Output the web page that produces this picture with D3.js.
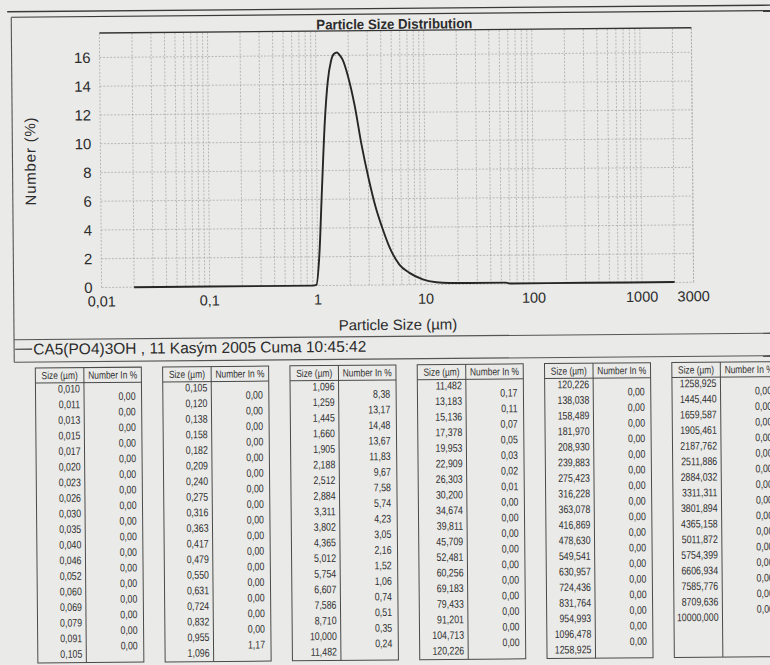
<!DOCTYPE html>
<html><head><meta charset="utf-8">
<script src="https://cdn.jsdelivr.net/npm/d3@7"></script>
<style>
html,body{margin:0;padding:0;background:#eaeae8;}
svg{display:block;}
</style></head><body>
<svg id="chart" width="770" height="665"></svg>
<script>
// ---- text ----
const chartTitle = "Particle Size Distribution";
const xAxisTitle = "Particle Size (µm)";
const yAxisTitle = "Number (%)";
const sampleCaption = "CA5(PO4)3OH , 11 Kasým 2005 Cuma 10:45:42";

// ---- axes ----
const xTickValues = [0.01, 0.1, 1, 10, 100, 1000, 3000];
const xTickLabels = ["0,01", "0,1", "1", "10", "100", "1000", "3000"];
const yTickValues = [0, 2, 4, 6, 8, 10, 12, 14, 16];

// ---- distribution curve (size in µm, number in %) ----
const curveSize = [0.02, 0.1, 0.5, 0.9, 0.97, 1.04, 1.114, 1.198, 1.285, 1.38, 1.47, 1.57, 1.67, 1.77, 1.97, 2.27, 2.61, 3.01, 3.47, 4.0, 4.61, 5.71, 7.07, 9.38, 12.5, 16.6, 25, 55, 60, 300, 2000];
const curveNumber = [0, 0, 0, 0, 0.05, 2.1, 6.75, 11.4, 14.2, 15.6, 16.1, 16.2, 16.0, 15.7, 14.6, 12.5, 9.76, 7.44, 5.47, 3.97, 2.69, 1.41, 0.83, 0.37, 0.16, 0.1, 0.09, 0.09, 0.03, 0.03, 0.03];

// ---- result tables ----
const tableHeaders = ["Size (µm)", "Number In %"];
const sizeColumns = [
  ["0,010","0,011","0,013","0,015","0,017","0,020","0,023","0,026","0,030","0,035","0,040","0,046","0,052","0,060","0,069","0,079","0,091","0,105"],
  ["0,105","0,120","0,138","0,158","0,182","0,209","0,240","0,275","0,316","0,363","0,417","0,479","0,550","0,631","0,724","0,832","0,955","1,096"],
  ["1,096","1,259","1,445","1,660","1,905","2,188","2,512","2,884","3,311","3,802","4,365","5,012","5,754","6,607","7,586","8,710","10,000","11,482"],
  ["11,482","13,183","15,136","17,378","19,953","22,909","26,303","30,200","34,674","39,811","45,709","52,481","60,256","69,183","79,433","91,201","104,713","120,226"],
  ["120,226","138,038","158,489","181,970","208,930","239,883","275,423","316,228","363,078","416,869","478,630","549,541","630,957","724,436","831,764","954,993","1096,478","1258,925"],
  ["1258,925","1445,440","1659,587","1905,461","2187,762","2511,886","2884,032","3311,311","3801,894","4365,158","5011,872","5754,399","6606,934","7585,776","8709,636","10000,000"]
];
const numberColumns = [
  ["0,00","0,00","0,00","0,00","0,00","0,00","0,00","0,00","0,00","0,00","0,00","0,00","0,00","0,00","0,00","0,00","0,00"],
  ["0,00","0,00","0,00","0,00","0,00","0,00","0,00","0,00","0,00","0,00","0,00","0,00","0,00","0,00","0,00","0,00","1,17"],
  ["8,38","13,17","14,48","13,67","11,83","9,67","7,58","5,74","4,23","3,05","2,16","1,52","1,06","0,74","0,51","0,35","0,24"],
  ["0,17","0,11","0,07","0,05","0,03","0,02","0,01","0,00","0,00","0,00","0,00","0,00","0,00","0,00","0,00","0,00","0,00"],
  ["0,00","0,00","0,00","0,00","0,00","0,00","0,00","0,00","0,00","0,00","0,00","0,00","0,00","0,00","0,00","0,00","0,00"],
  ["0,00","0,00","0,00","0,00","0,00","0,00","0,00","0,00","0,00","0,00","0,00","0,00","0,00","0,00","0,00"]
];

const ink = "#2c2c2c";
const gridInk = "#ababab";
const sans = "'Liberation Sans', Arial, sans-serif";

const svg = d3.select("#chart");
svg.append("rect").attr("width", 770).attr("height", 665).attr("fill", "#eaeae8");

// the printed page sits very slightly tilted
const page = svg.append("g").attr("transform", "rotate(-0.5 385 332)");

// ---- frame ----
page.append("line").attr("x1", 10).attr("x2", 780).attr("y1", 8.5).attr("y2", 8.5)
  .attr("stroke", "#3a3a3a").attr("stroke-width", 1.4);
page.append("line").attr("x1", 14).attr("x2", 780).attr("y1", 14).attr("y2", 14)
  .attr("stroke", "#3a3a3a").attr("stroke-width", 1.2);
page.append("line").attr("x1", 14).attr("x2", 14).attr("y1", 14).attr("y2", 359)
  .attr("stroke", "#555").attr("stroke-width", 1.1);
page.append("line").attr("x1", 14).attr("x2", 780).attr("y1", 336.5).attr("y2", 336.5)
  .attr("stroke", "#555").attr("stroke-width", 1.1);
page.append("line").attr("x1", 14).attr("x2", 780).attr("y1", 359).attr("y2", 359)
  .attr("stroke", "#555").attr("stroke-width", 1.1);

// ---- plot ----
const plotTop = 30.5;
const x = d3.scaleLog().domain([0.01, 3000]).range([102, 694]);
const y = d3.scaleLinear().domain([0, 16]).range([285, 55]);

const minorValues = [];
[0.01, 0.1, 1, 10, 100, 1000].forEach(d => {
  for (let k = 1; k <= 9; k++) { const v = +(k * d).toPrecision(3); if (v <= 3000) minorValues.push(v); }
});
minorValues.push(3000);

const grid = page.append("g");
grid.selectAll("line.v").data(minorValues).join("line")
  .attr("x1", d => x(d)).attr("x2", d => x(d))
  .attr("y1", y(0)).attr("y2", plotTop)
  .attr("stroke", gridInk).attr("stroke-width", 0.8).attr("stroke-dasharray", "2,1.5");
grid.selectAll("line.h").data(yTickValues).join("line")
  .attr("x1", x(0.01)).attr("x2", x(3000))
  .attr("y1", d => y(d)).attr("y2", d => y(d))
  .attr("stroke", gridInk).attr("stroke-width", 0.8).attr("stroke-dasharray", "2,1.5");

page.append("line").attr("x1", x(0.01)).attr("x2", x(3000)).attr("y1", plotTop).attr("y2", plotTop)
  .attr("stroke", "#333").attr("stroke-width", 1.4);

page.append("text").text(chartTitle)
  .attr("x", 397).attr("y", 29).attr("text-anchor", "middle")
  .attr("font-family", sans).attr("font-weight", "bold").attr("font-size", 14)
  .attr("textLength", 156).attr("lengthAdjust", "spacingAndGlyphs").attr("fill", ink);

// y ticks
page.append("g").selectAll("text").data(yTickValues).join("text")
  .text(d => d)
  .attr("x", 93).attr("y", d => y(d)).attr("dy", "0.36em").attr("text-anchor", "end")
  .attr("font-family", sans).attr("font-size", 15).attr("fill", ink);

// x ticks
page.append("g").selectAll("text").data(xTickValues).join("text")
  .text((d, i) => xTickLabels[i])
  .attr("x", d => x(d)).attr("y", 304).attr("text-anchor", "middle")
  .attr("font-family", sans).attr("font-size", 14.5).attr("fill", ink);

page.append("text").text(xAxisTitle)
  .attr("x", 398).attr("y", 330).attr("text-anchor", "middle")
  .attr("font-family", sans).attr("font-size", 15).attr("fill", ink);

page.append("text").text(yAxisTitle)
  .attr("transform", "translate(37,158) rotate(-90)").attr("text-anchor", "middle")
  .attr("font-family", sans).attr("font-size", 15).attr("letter-spacing", 0.8).attr("fill", ink);

// curve
const points = curveSize.map((s, i) => [s, curveNumber[i]]);
page.append("path").datum(points)
  .attr("d", d3.line().x(d => x(d[0])).y(d => y(d[1])).curve(d3.curveMonotoneX))
  .attr("fill", "none").attr("stroke", "#262626").attr("stroke-width", 1.9);

// ---- caption ----
page.append("line").attr("x1", 15).attr("x2", 32).attr("y1", 346).attr("y2", 346)
  .attr("stroke", "#333").attr("stroke-width", 1.2);
page.append("text").text(sampleCaption)
  .attr("x", 33).attr("y", 351.5)
  .attr("font-family", sans).attr("font-size", 15.5).attr("fill", ink);

// ---- tables ----
const tblLeft0 = 35, tblPitch = 127.3, tblWidth = 106, sizeColW = 48.5;
const headTop = 365, headBottom = 380, row0 = 386, rowStep = 15.6, tblBottom = 660;
const squeeze = 0.8;   // condensed table lettering

function cellText(g, cls, data, xPos, yFn, anchor, size) {
  g.selectAll("text." + cls).data(data).join("text").attr("class", cls)
    .text(d => d)
    .attr("transform", (d, i) => `translate(${xPos},${yFn(i)}) scale(${squeeze},1)`)
    .attr("dy", "0.35em").attr("text-anchor", anchor)
    .attr("font-family", sans).attr("font-size", size).attr("fill", "#303030");
}

sizeColumns.forEach((sizes, t) => {
  const left = tblLeft0 + t * tblPitch;
  const mid = left + sizeColW;
  const right = left + tblWidth;
  const g = page.append("g");
  const stroke = "#4a4a4a";
  g.append("rect").attr("x", left).attr("y", headTop).attr("width", tblWidth).attr("height", tblBottom - headTop)
    .attr("fill", "none").attr("stroke", stroke).attr("stroke-width", 1);
  g.append("line").attr("x1", left).attr("x2", right).attr("y1", headBottom).attr("y2", headBottom)
    .attr("stroke", stroke).attr("stroke-width", 1);
  g.append("line").attr("x1", mid).attr("x2", mid).attr("y1", headTop).attr("y2", tblBottom)
    .attr("stroke", stroke).attr("stroke-width", 1);

  const headY = () => (headTop + headBottom) / 2;
  cellText(g, "h1", [tableHeaders[0]], (left + mid) / 2, headY, "middle", 10.5);
  cellText(g, "h2", [tableHeaders[1]], (mid + right) / 2, headY, "middle", 10.5);
  cellText(g, "size", sizes, mid - 4, i => row0 + i * rowStep, "end", 11);
  cellText(g, "num", numberColumns[t], right - 6, i => row0 + (i + 0.5) * rowStep, "end", 11);
});
</script>
</body></html>
